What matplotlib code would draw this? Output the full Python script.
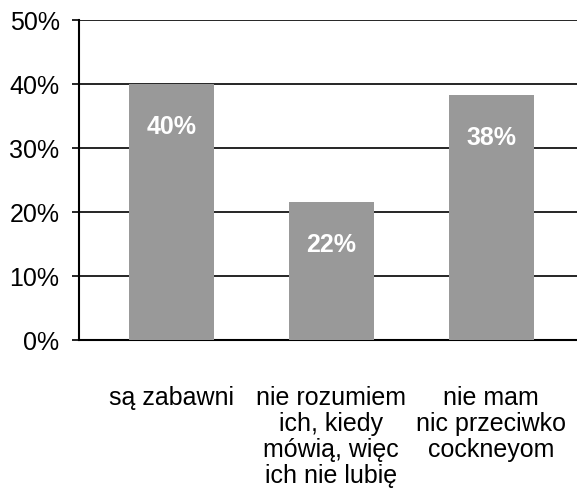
import matplotlib
matplotlib.use("Agg")
import matplotlib.pyplot as plt
from matplotlib.ticker import FuncFormatter

categories = ["są zabawni", "nie rozumiem\nich, kiedy\nmówią, więc\nich nie lubię", "nie mam\nnic przeciwko\ncockneyom"]
values = [40.0, 21.6, 38.3]
bar_labels = ["40%", "22%", "38%"]
y_ticks = [0, 10, 20, 30, 40, 50]

plt.rcParams['font.family'] = ['Liberation Sans', 'DejaVu Sans']

fig = plt.figure(figsize=(5.77, 4.99), dpi=100)
ax = fig.add_axes([79/577, (499-340)/499, 1 - 79/577, (340-20)/499])

x = list(range(len(categories)))
bars = ax.bar(x, values, width=0.532, color="#999999", zorder=3)

ax.set_ylim(0, 50)
ax.set_xlim(-0.579, 2.538)
ax.set_yticks(y_ticks)
ax.yaxis.set_major_formatter(FuncFormatter(lambda v, p: f"{v:.0f}%"))
ax.yaxis.grid(True, color="black", linewidth=1.2, zorder=1)
ax.set_axisbelow(True)

ax.set_xticks(x)
ax.set_xticklabels(categories, fontsize=18, linespacing=1.1, va="top")
ax.tick_params(axis="x", length=0, pad=33)
ax.tick_params(axis="y", length=5, width=1.2, pad=9, labelsize=18, direction="out")

for s in ["top", "right"]:
    ax.spines[s].set_visible(False)
ax.spines["left"].set_linewidth(1.5)
ax.spines["bottom"].set_linewidth(1.5)

for b, lab in zip(bars, bar_labels):
    ax.annotate(lab, (b.get_x() + b.get_width()/2, b.get_height()),
                xytext=(0, -31), textcoords="offset points",
                ha="center", va="center", color="white",
                fontsize=18, fontweight="bold", zorder=4)

fig.savefig("out.png", dpi=100)
